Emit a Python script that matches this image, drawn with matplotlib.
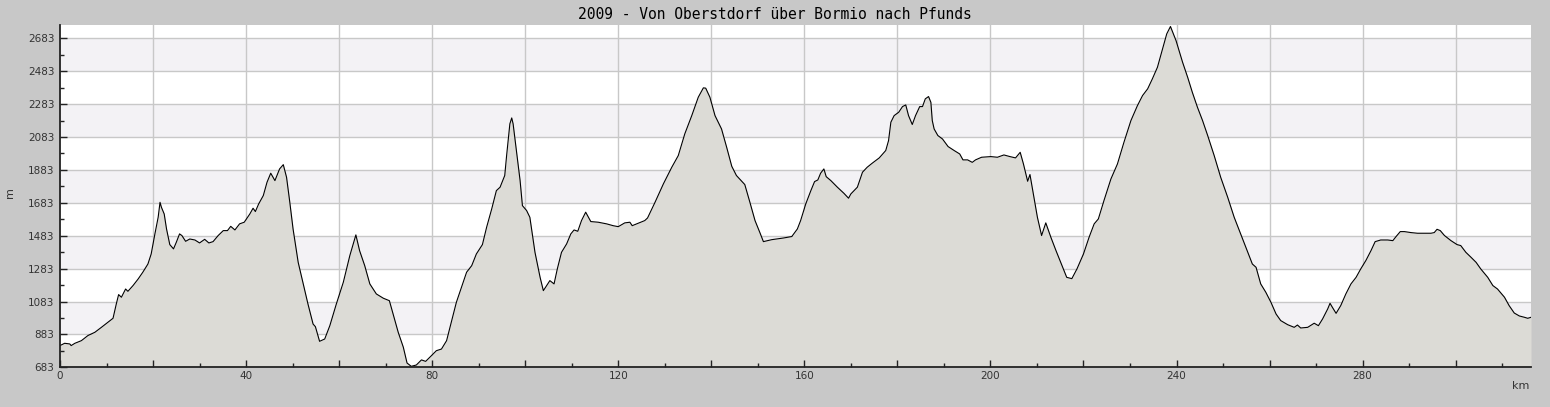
# -*- coding: utf-8 -*-

"""
Elevation profile of the 2009 tour from Oberstdorf via Bormio to Pfunds
"""

import numpy as np
import matplotlib
matplotlib.use('Agg')
import matplotlib.pyplot as plt
from matplotlib.ticker import MultipleLocator, FixedLocator, FuncFormatter

# ============== #
# Data           #
# ============== #
title_text = "2009 - Von Oberstdorf über Bormio nach Pfunds"

km = [0.0, 1.0, 2.1, 2.4, 3.2, 4.6, 6.0, 7.5, 8.9, 10.3, 11.4, 12.1, 12.6,
      13.2, 14.1, 14.6, 15.7, 16.8, 17.8, 18.9, 19.6, 20.4, 21.1, 21.5, 21.8,
      22.4, 22.9, 23.6, 24.4, 25.0, 25.7, 26.2, 27.0, 27.9, 29.0, 30.0, 31.1,
      32.0, 32.9, 34.0, 35.1, 36.0, 36.7, 37.6, 38.6, 39.6, 40.8, 41.5, 42.0,
      42.7, 43.7, 44.5, 45.3, 46.2, 47.2, 48.0, 48.7, 49.4, 50.1, 51.2, 52.3,
      53.3, 54.4, 54.9, 55.8, 56.9, 58.0, 59.4, 60.9, 62.3, 63.6, 64.4, 65.5,
      66.6, 68.0, 69.5, 70.8, 71.6, 72.7, 73.8, 74.6, 75.5, 76.6, 77.7, 78.6,
      79.5, 80.2,
      80.9, 82.0, 83.1, 84.2, 85.2, 86.3, 87.4, 88.5, 89.5, 90.8, 91.7, 92.8,
      93.8, 94.6, 95.6, 96.0, 96.7, 97.1, 97.4, 98.1, 98.9, 99.4, 100.3,
      101.0, 102.1, 103.2, 103.9, 104.6, 105.3, 106.2, 106.9, 107.8, 108.9,
      109.8, 110.5, 111.3, 112.1, 113.0, 114.1, 115.7, 117.5, 118.9, 120.0,
      121.4, 122.5, 123.0, 124.3, 125.7, 126.3, 127.9, 129.7, 131.5, 132.9,
      134.3, 135.8, 137.2, 138.3, 138.8, 139.7, 140.8, 142.2, 143.3, 144.4,
      145.4, 147.2, 148.3, 149.4, 150.5, 151.2, 153.0, 155.5, 157.3,
      158.5, 159.2, 160.3, 161.4, 162.2, 162.9, 163.5, 164.2, 164.7, 165.7,
      167.1, 168.5, 169.5, 170.0, 171.4, 172.5, 173.5, 174.6, 176.1, 177.5,
      178.1, 178.6, 179.3, 180.3, 181.1, 181.8, 182.4, 183.2, 183.9, 184.8,
      185.4, 186.0, 186.7, 187.2, 187.5, 187.9, 188.7, 189.7, 190.9, 192.2,
      193.4, 194.1, 195.1, 196.1, 196.8, 198.1, 200.1, 201.5, 202.9, 204.2,
      205.4, 206.4, 207.1, 208.0, 208.5, 209.1, 210.1, 211.0, 211.9, 213.0,
      214.1, 215.1, 216.4, 217.5, 218.6, 220.0, 221.2, 222.3, 223.2, 224.4,
      225.9, 227.3, 228.7, 230.2, 231.6, 232.7, 233.8, 234.8, 235.9, 237.0,
      237.9, 238.7,
      239.9, 241.3, 242.4, 243.4, 244.5, 245.6, 246.7, 248.1, 249.5, 251.0,
      252.4, 253.8, 254.9, 256.3, 257.1, 258.1, 259.2, 260.3, 261.4, 262.4,
      263.9, 265.3, 266.0, 266.7, 268.2, 269.6, 270.5, 271.4, 272.5, 273.0,
      273.5, 274.3, 275.3, 276.4, 277.5, 278.6, 279.6, 280.7, 281.8, 282.7,
      283.9, 285.4, 286.5, 287.2, 288.1, 289.0, 290.4, 291.8, 293.3, 294.7,
      295.4, 296.0, 296.7, 297.6, 299.0, 300.3, 301.1, 302.2, 303.3, 304.4,
      305.4, 306.9, 308.0, 309.0, 310.5, 311.5, 312.6, 313.7, 314.8, 315.5,
      316.2]

elev = [815, 829, 825, 815, 829, 845, 876, 896, 926, 957, 981, 1068, 1125,
        1109, 1159, 1145, 1180, 1220, 1261, 1311, 1372, 1494, 1595, 1686, 1656,
        1615, 1524, 1429, 1403, 1443, 1494, 1484, 1449, 1463, 1457, 1439, 1461,
        1439, 1447, 1484, 1514, 1514, 1540, 1518, 1555, 1565, 1615, 1650, 1630,
        1676, 1727, 1808, 1863, 1818, 1889, 1915, 1838, 1686, 1524, 1321, 1190,
        1068, 946, 930, 841, 855, 936, 1068, 1200, 1362, 1488, 1392, 1301,
        1190, 1129, 1103, 1088, 1007, 896, 805, 709, 689, 697, 728, 719,
        744, 764,
        784, 794, 845, 967, 1078, 1169, 1261, 1301, 1372, 1429, 1534, 1646,
        1757, 1778, 1849, 1970, 2163, 2199, 2163, 2001, 1818, 1666, 1636,
        1595, 1382, 1230, 1149, 1180, 1210, 1190, 1281, 1382, 1433,
        1494, 1518, 1510, 1575, 1626, 1569, 1565, 1555, 1544, 1538,
        1561, 1565, 1544, 1559, 1575, 1591, 1686, 1798, 1899, 1970,
        2102, 2213, 2325, 2382, 2380, 2325, 2213, 2132, 2021, 1905,
        1849, 1794, 1686, 1575, 1498, 1447, 1459, 1469, 1478,
        1524, 1575, 1676, 1757, 1812, 1822, 1863, 1889, 1842, 1818,
        1778, 1741, 1711, 1737, 1778, 1869, 1899, 1924, 1956, 2001,
        2061, 2173, 2213, 2234, 2268, 2278, 2213, 2159, 2213, 2268,
        2268, 2315, 2329, 2294, 2183, 2132, 2092, 2071, 2025, 2001,
        1980, 1944, 1944, 1929, 1944, 1960, 1964, 1960, 1974, 1964,
        1956, 1990, 1919, 1814, 1855, 1757, 1595, 1484, 1561, 1473,
        1392, 1321, 1230, 1222, 1281, 1372, 1473, 1555, 1585, 1696,
        1828, 1919, 2051, 2183, 2274, 2335, 2376, 2436, 2507, 2619,
        2710, 2755,
        2669, 2538, 2446, 2355, 2264, 2183, 2092, 1970, 1838, 1717,
        1595, 1494, 1413, 1311, 1291, 1190, 1139, 1078, 1007, 967,
        942, 926, 940, 922, 926, 951, 936, 977, 1038, 1072,
        1048, 1011, 1058, 1129, 1190, 1230, 1281, 1332, 1392, 1447,
        1457, 1457, 1453, 1478, 1508, 1508, 1502, 1498, 1498, 1498,
        1502, 1522, 1514, 1484, 1453, 1429, 1423, 1382, 1352, 1321,
        1281, 1230, 1180, 1159, 1109, 1058, 1013, 995, 987, 981,
        987]

y_ticks = [683, 883, 1083, 1283, 1483, 1683, 1883, 2083, 2283, 2483, 2683]
x_ticks = [0, 20, 40, 60, 80, 100, 120, 140, 160, 180, 200, 220, 240, 260,
           280, 300]
x_labelled = [0, 40, 80, 120, 160, 200, 240, 280]

# ============== #
# Style          #
# ============== #
bg_col = '#c8c8c8'
band_col = '#f3f2f5'
fill_col = '#dcdbd6'
grid_col = '#c8c8c8'
text_col = '#333333'

fig = plt.figure(figsize=(15.5, 4.07), dpi=100, facecolor=bg_col)
ax = fig.add_axes([60/1550, 1 - 367.3/407, (1531 - 60)/1550, (367.3 - 25)/407])
ax.set_facecolor('white')

xmax = km[-1]
ymin, ymax = 683, 2764
ax.set_xlim(0, xmax)
ax.set_ylim(ymin, ymax)

# alternating horizontal bands
for i in range(len(y_ticks) - 1):
    if i % 2 == 1:
        ax.axhspan(y_ticks[i], y_ticks[i + 1], color=band_col, lw=0, zorder=0.5)

# grid lines (drawn under the profile)
for yt in y_ticks[1:]:
    ax.axhline(yt, color=grid_col, lw=1.0, zorder=1)
for xt in x_ticks[1:]:
    ax.axvline(xt, color=grid_col, lw=1.0, zorder=1)

# the profile
ax.fill_between(km, elev, ymin, color=fill_col, lw=0, zorder=2)
ax.plot(km, elev, color='black', lw=0.8, zorder=2.2)

# axes and ticks
ax.set_axisbelow(False)
for s in ['top', 'right']:
    ax.spines[s].set_visible(False)
for s in ['left', 'bottom']:
    ax.spines[s].set_color('#222222')
    ax.spines[s].set_linewidth(1.3)
    ax.spines[s].set_zorder(3)

ax.yaxis.set_major_locator(FixedLocator(y_ticks))
ax.yaxis.set_minor_locator(FixedLocator([y + 100 for y in y_ticks[:-1]]))
ax.xaxis.set_major_locator(FixedLocator(x_ticks))
ax.xaxis.set_minor_locator(FixedLocator([x + 10 for x in x_ticks]))
ax.xaxis.set_major_formatter(
    FuncFormatter(lambda v, p: str(int(v)) if int(v) in x_labelled else ''))

ax.tick_params(which='major', direction='in', length=5, width=1,
               color='#222222', labelsize=7.5, labelcolor=text_col)
ax.tick_params(which='minor', direction='in', length=3, width=1,
               color='#222222')
ax.tick_params(axis='x', which='major', pad=3)
ax.tick_params(axis='y', which='major', pad=4)

# titles and unit labels
fig.text(775/1550, 1 - 14.5/407, title_text, ha='center', va='center',
         family='DejaVu Sans Mono', fontsize=10.5, color='black')
fig.text(10/1550, 1 - 193/407, 'm', ha='center', va='center', rotation=90,
         fontsize=8, color=text_col)
fig.text(1521/1550, 1 - 386/407, 'km', ha='center', va='center',
         fontsize=8, color=text_col)

fig.savefig('out.png', dpi=100, facecolor=bg_col)
